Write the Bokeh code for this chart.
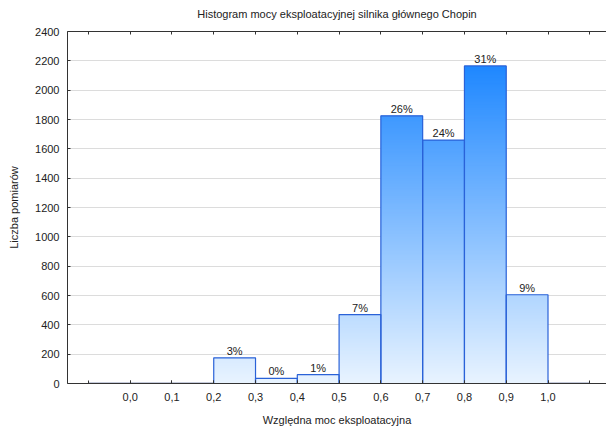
import numpy as np
from bokeh.plotting import figure
from bokeh.models import FixedTicker, LinearAxis, Range1d, ColumnDataSource
from bokeh.core.properties import value
from bokeh.embed import file_html
from bokeh.resources import INLINE

# ---- data ----
bin_left = [-0.1, 0.0, 0.1, 0.2, 0.3, 0.4, 0.5, 0.6, 0.7, 0.8, 0.9, 1.0]
bin_width = 0.1
counts = [0, 0, 0, 175, 35, 60, 470, 1825, 1660, 2165, 605, 0]
pct_labels = ["", "", "", "3%", "0%", "1%", "7%", "26%", "24%", "31%", "9%", ""]
x_label_ticks = [0.0, 0.1, 0.2, 0.3, 0.4, 0.5, 0.6, 0.7, 0.8, 0.9, 1.0]
x_tick_labels = ["0,0", "0,1", "0,2", "0,3", "0,4", "0,5", "0,6", "0,7", "0,8", "0,9", "1,0"]
x_all_ticks = [-0.1, 0.0, 0.1, 0.2, 0.3, 0.4, 0.5, 0.6, 0.7, 0.8, 0.9, 1.0, 1.1]
y_ticks = [0, 200, 400, 600, 800, 1000, 1200, 1400, 1600, 1800, 2000, 2200, 2400]

title = "Histogram mocy eksploatacyjnej silnika głównego Chopin"
x_label = "Względna moc eksploatacyjna"
y_label = "Liczba pomiarów"

FONT = "Liberation Sans"

p = figure(width=606, height=432, output_backend="svg", toolbar_location=None,
           x_range=Range1d(-0.15, 1.14), y_range=Range1d(0, 2400),
           min_border_left=67, min_border_right=0, min_border_top=31, min_border_bottom=49)
p.outline_line_color = None
p.xgrid.grid_line_color = None
p.ygrid.grid_line_color = "#dcdcdc"
p.ygrid.ticker = FixedTicker(ticks=y_ticks)

# gradient fill: horizontal slices coloured by absolute height
c_lo = np.array([233, 244, 255])
c_hi = np.array([28, 134, 255])
y_top_grad = 2200.0
step = 8.0
L, R, B, T, C = [], [], [], [], []
for xl, c in zip(bin_left, counts):
    if c <= 0:
        continue
    edges = np.arange(0, c, step).tolist() + [c]
    for b0, b1 in zip(edges[:-1], edges[1:]):
        t = min(1.0, ((b0 + b1) / 2) / y_top_grad)
        col = (c_lo + (c_hi - c_lo) * t).astype(int)
        L.append(xl); R.append(xl + bin_width); B.append(b0); T.append(min(c, b1 + step))
        C.append("#%02x%02x%02x" % tuple(col))
p.quad(left=L, right=R, bottom=B, top=T, fill_color=C, line_color=None)

src = ColumnDataSource(dict(left=bin_left, right=[b + bin_width for b in bin_left],
                            top=counts, mid=[b + bin_width / 2 for b in bin_left],
                            lab=pct_labels))
p.quad(left="left", right="right", bottom=0, top="top", source=src,
       fill_color=None, line_color="#2a62d8", line_width=1.2)
# zero-height bins drawn as dark base line
zl = [b for b, c in zip(bin_left, counts) if c == 0]
p.segment(x0=zl, x1=[b + bin_width for b in zl], y0=[0] * len(zl), y1=[0] * len(zl),
          line_color="#1a2f6e", line_width=1.5)

lab_src = ColumnDataSource(dict(x=[m for m, l in zip(src.data["mid"], pct_labels) if l],
                                y=[c for c, l in zip(counts, pct_labels) if l],
                                t=[l for l in pct_labels if l]))
p.text(x="x", y="y", text="t", source=lab_src, text_align="center",
       text_baseline="bottom", y_offset=-1, text_font=value(FONT),
       text_font_size="11px", text_color="#222222")

# axes
xa = p.xaxis[0]
xa.ticker = FixedTicker(ticks=x_label_ticks, minor_ticks=x_all_ticks)
xa.major_label_overrides = {t: l for t, l in zip(x_label_ticks, x_tick_labels)}
xa.axis_label = x_label
ya = p.yaxis[0]
ya.ticker = FixedTicker(ticks=y_ticks)
ya.axis_label = y_label

# top border with ticks; its axis label carries the chart title
top_ax = LinearAxis(ticker=FixedTicker(ticks=[], minor_ticks=x_all_ticks),
                    axis_label=title, major_label_standoff=0)
p.add_layout(top_ax, "above")

for ax in (xa, ya, top_ax):
    ax.major_tick_in = 3
    ax.major_tick_out = 0
    ax.minor_tick_in = 3
    ax.minor_tick_out = 0
    ax.minor_tick_line_color = "#333333"
    ax.axis_line_color = "#333333"
    ax.major_tick_line_color = "#333333"
    ax.major_label_text_font = FONT
    ax.major_label_text_font_size = "11px"
    ax.major_label_text_color = "#222222"
    ax.axis_label_text_font = FONT
    ax.axis_label_text_font_size = "11px"
    ax.axis_label_text_font_style = "normal"
    ax.axis_label_text_color = "#222222"
ya.minor_tick_line_color = None
xa.major_label_standoff = 9
xa.axis_label_standoff = 10
ya.major_label_standoff = 8
ya.axis_label_standoff = 12
top_ax.major_label_standoff = 0
top_ax.axis_label_standoff = 12

open("out.html", "w").write(file_html(p, INLINE))
